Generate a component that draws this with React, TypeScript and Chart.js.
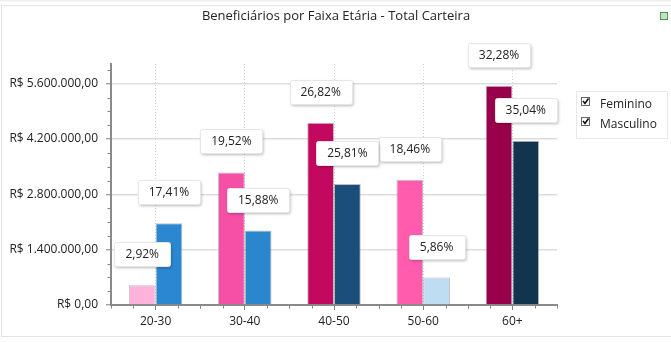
import React, { useEffect, useRef } from "react";
import { Chart, registerables } from "chart.js";

Chart.register(...registerables);

const categories = ["20-30", "30-40", "40-50", "50-60", "60+"];
const femininoValues = [502000, 3356000, 4611000, 3173000, 5549000];
const masculinoValues = [2067000, 1885000, 3064000, 696000, 4160000];
const femininoPct = ["2,92%", "19,52%", "26,82%", "18,46%", "32,28%"];
const masculinoPct = ["17,41%", "15,88%", "25,81%", "5,86%", "35,04%"];
const femininoColors = ["#FFB3DC", "#F54FA6", "#C2085F", "#FF5CAE", "#99004B"];
const masculinoColors = ["#2B87D0", "#2A86CD", "#1B4E7B", "#BEDCF2", "#11344F"];
const legendLabels = ["Feminino", "Masculino"];
const titleText = "Beneficiários por Faixa Etária - Total Carteira";
const yMax = 6100000;
const yTickValues = [0, 1400000, 2800000, 4200000, 5600000];
const yMinorStep = 350000;

const FONT = '"Open Sans", "Noto Sans", sans-serif';

function formatBRL(v: number): string {
  const s = Math.round(v).toString();
  const withDots = s.replace(/\B(?=(\d{3})+(?!\d))/g, ".");
  return "R$ " + withDots + ",00";
}

const decorPlugin = {
  id: "decor",
  beforeDraw(chart: any) {
    const ctx = chart.ctx;
    ctx.save();
    ctx.fillStyle = "#ffffff";
    ctx.fillRect(0, 0, chart.width, chart.height);
    ctx.fillStyle = "#eeeeee";
    ctx.fillRect(0, 0, chart.width, 1.5);
    ctx.strokeStyle = "#e4e4e4";
    ctx.lineWidth = 1;
    ctx.strokeRect(1.5, 5.5, chart.width + 10, 331);
    // green square
    ctx.fillStyle = "#b9e8b9";
    ctx.fillRect(660.5, 12.5, 7, 7);
    ctx.strokeStyle = "#5f8f5f";
    ctx.strokeRect(660.5, 12.5, 7, 7);
    // title
    ctx.fillStyle = "#222222";
    ctx.font = `13px ${FONT}`;
    ctx.textAlign = "center";
    ctx.textBaseline = "middle";
    ctx.fillText(titleText, 336, 16);
    ctx.restore();
  },
  afterDraw(chart: any) {
    const ctx = chart.ctx;
    const xs = chart.scales.x;
    const ys = chart.scales.y;
    ctx.save();
    // minor ticks
    ctx.strokeStyle = "#808080";
    ctx.lineWidth = 1;
    const step = xs.getPixelForValue(1) - xs.getPixelForValue(0);
    for (let i = 0; i < categories.length; i++) {
      const c = xs.getPixelForValue(i);
      for (const f of [-0.5, -0.25, 0.25, 0.5]) {
        const px = Math.round(c + f * step) + 0.5;
        ctx.beginPath();
        ctx.moveTo(px, ys.bottom + 1);
        ctx.lineTo(px, ys.bottom + 3.5);
        ctx.stroke();
      }
    }
    for (let v = yMinorStep; v <= yMax; v += yMinorStep) {
      if (yTickValues.includes(v)) continue;
      const py = Math.round(ys.getPixelForValue(v)) + 0.5;
      ctx.beginPath();
      ctx.moveTo(xs.left - 1, py);
      ctx.lineTo(xs.left - 3.5, py);
      ctx.stroke();
    }

    // percentage labels
    ctx.font = `12px ${FONT}`;
    ctx.textAlign = "center";
    ctx.textBaseline = "middle";
    const pcts = [femininoPct, masculinoPct];
    chart.data.datasets.forEach((_ds: any, di: number) => {
      const meta = chart.getDatasetMeta(di);
      meta.data.forEach((bar: any, i: number) => {
        const text = pcts[di][i];
        const tw = ctx.measureText(text).width;
        const w = Math.round(tw + 22);
        const h = 24;
        const bx = Math.round(bar.x - w / 2) + 0.5;
        const by = Math.round(bar.y - 19 - h) + 0.5;
        ctx.save();
        ctx.shadowColor = "rgba(0,0,0,0.28)";
        ctx.shadowBlur = 3;
        ctx.shadowOffsetX = 1;
        ctx.shadowOffsetY = 1.5;
        ctx.fillStyle = "#ffffff";
        ctx.beginPath();
        ctx.roundRect(bx, by, w, h, 2);
        ctx.fill();
        ctx.restore();
        ctx.strokeStyle = "#e6e6e6";
        ctx.lineWidth = 1;
        ctx.beginPath();
        ctx.roundRect(bx, by, w, h, 2);
        ctx.stroke();
        ctx.fillStyle = "#222222";
        ctx.fillText(text, bar.x, by + h / 2 + 0.5);
      });
    });

    // legend
    ctx.strokeStyle = "#e8e8e8";
    ctx.lineWidth = 1;
    ctx.strokeRect(576.5, 91.5, 91, 47);
    ctx.textAlign = "left";
    ctx.font = `12px ${FONT}`;
    legendLabels.forEach((lab, i) => {
      const cy = 97.5 + i * 20;
      ctx.fillStyle = "#ffffff";
      ctx.fillRect(581.5, cy, 8, 8);
      ctx.strokeStyle = "#666666";
      ctx.lineWidth = 1;
      ctx.strokeRect(581.5, cy, 8, 8);
      ctx.strokeStyle = "#111111";
      ctx.lineWidth = 1.6;
      ctx.beginPath();
      ctx.moveTo(583, cy + 3.5);
      ctx.lineTo(585, cy + 6);
      ctx.lineTo(588.5, cy + 1);
      ctx.stroke();
      ctx.fillStyle = "#222222";
      ctx.fillText(lab, 600, 104.5 + i * 20);
    });
    ctx.restore();
  },
};

export default function App() {
  const ref = useRef<HTMLCanvasElement>(null);
  useEffect(() => {
    document.body.style.margin = "0";
    const canvas = ref.current!;
    const chart = new Chart(canvas, {
      type: "bar",
      data: {
        labels: categories,
        datasets: [
          {
            label: legendLabels[0],
            data: femininoValues,
            backgroundColor: femininoColors,
            borderColor: "rgba(110,110,110,0.45)",
            borderWidth: 1,
          },
          {
            label: legendLabels[1],
            data: masculinoValues,
            backgroundColor: masculinoColors,
            borderColor: "rgba(110,110,110,0.45)",
            borderWidth: 1,
          },
        ],
      },
      options: {
        responsive: false,
        animation: false,
        devicePixelRatio: 1,
        layout: { padding: { top: 64, right: 114, left: 0, bottom: 0 } },
        datasets: { bar: { categoryPercentage: 0.6, barPercentage: 1.0 } },
        plugins: {
          legend: { display: false },
          title: { display: false },
          tooltip: { enabled: false },
        },
        scales: {
          x: {
            afterFit: (s: any) => {
              s.height = 37;
            },
            grid: {
              offset: false,
              color: "#d4d4d4",
              lineWidth: 1,
              tickLength: 5,
              tickColor: "#808080",
              tickWidth: 1,
            },
            border: { color: "#8a8a8a", width: 2, dash: [1, 2] },
            ticks: {
              color: "#222222",
              font: { family: FONT, size: 12 },
              padding: 4,
            },
          },
          y: {
            min: 0,
            max: yMax,
            afterFit: (s: any) => {
              s.width = 111;
            },
            afterBuildTicks: (s: any) => {
              s.ticks = yTickValues.map((v) => ({ value: v }));
            },
            grid: {
              color: "#dddddd",
              lineWidth: 1.5,
              tickLength: 5,
              tickColor: "#808080",
              tickWidth: 1,
            },
            border: { color: "#8a8a8a", width: 2 },
            ticks: {
              color: "#222222",
              font: { family: FONT, size: 12 },
              padding: 8,
              callback: (v: any) => formatBRL(Number(v)),
            },
          },
        },
      },
      plugins: [decorPlugin],
    });
    return () => chart.destroy();
  }, []);
  return (
    <div style={{ position: "fixed", left: 0, top: 0, width: 671, height: 342 }}>
      <canvas ref={ref} width={671} height={342} style={{ width: 671, height: 342 }} />
    </div>
  );
}
